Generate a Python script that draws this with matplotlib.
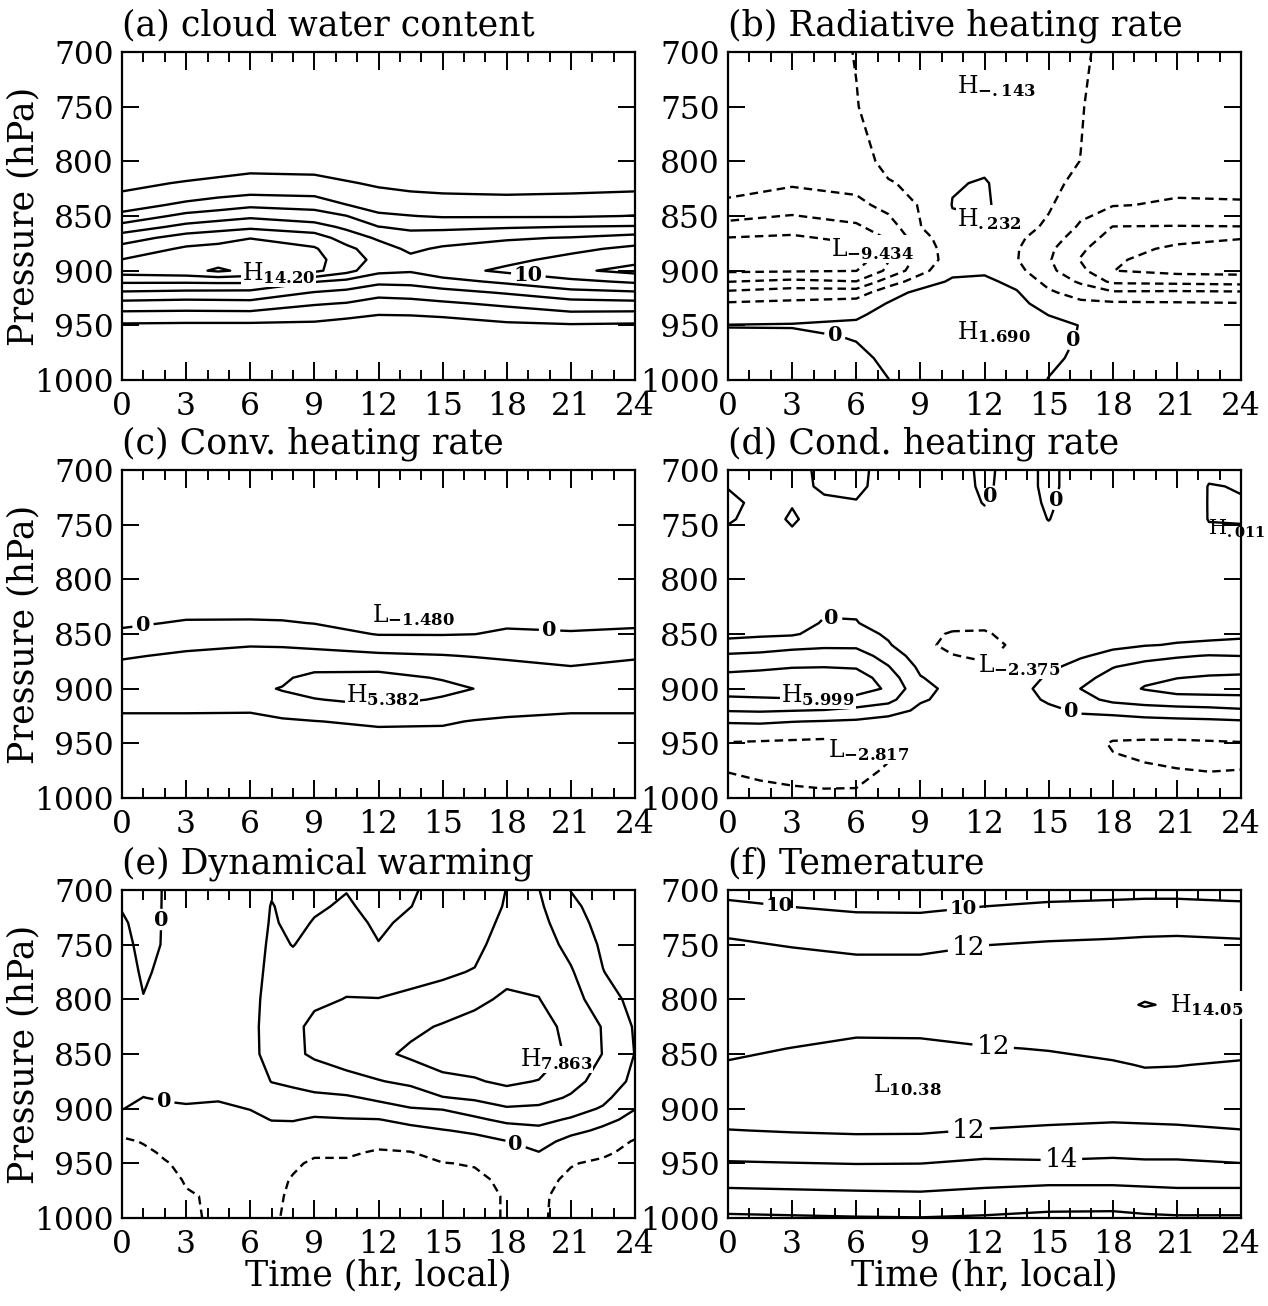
import numpy as np
import matplotlib
matplotlib.use('Agg')
import matplotlib.pyplot as plt
from matplotlib.ticker import MultipleLocator

plt.rcParams['font.family'] = ['DejaVu Serif']
plt.rcParams['mathtext.fontset'] = 'dejavuserif'

# ---------------- (a) cloud water content ----------------
TA = [0, 3, 4.5, 6, 9, 10.5, 12, 13.5, 15, 18, 21, 24]
PA = [700, 800, 810, 820, 830, 840, 850, 860, 870, 880, 890, 900, 910, 920, 930, 940, 950, 960, 1000]
A_cols = [
    [0, 0, 0.7, 1.4, 2.2, 3.2, 4.5, 6.8, 9.0, 10.75, 12.05, 13.0, 10.3, 7.75, 5.4, 3.45, 1.7, 0.8, 0],
    [0, 0.2, 1.2, 2.2, 3.2, 4.4, 6.6, 8.6, 10.9, 12.3, 13.0, 13.4, 10.3, 7.5, 5.2, 3.4, 1.6, 0.8, 0],
    [0, 0.5, 1.55, 2.55, 3.55, 5.0, 7.1, 9.1, 11.4, 12.5, 13.2, 14.3, 10.4, 7.45, 5.3, 3.4, 1.6, 0.8, 0],
    [0, 0.8, 1.9, 2.9, 3.9, 5.6, 7.6, 9.6, 11.95, 12.8, 13.3, 13.5, 10.4, 7.4, 5.4, 3.4, 1.6, 0.8, 0],
    [0, 0.7, 1.8, 2.7, 3.7, 5.3, 6.9, 8.8, 11.0, 12.2, 12.6, 12.5, 8.1, 5.9, 4.2, 2.8, 1.6, 0.7, 0],
    [0, 0.4, 1.3, 2.2, 3.0, 4.05, 6.05, 7.6, 9.1, 10.5, 11.0, 10.7, 7.4, 5.5, 3.9, 2.5, 1.2, 0.6, 0],
    [0, 0, 0.8, 1.7, 2.5, 3.3, 4.3, 6.05, 7.7, 8.9, 9.4, 8.5, 6.5, 4.6, 3.3, 2.05, 1.0, 0.5, 0],
    [0, 0, 0.6, 1.4, 2.2, 3.0, 4.05, 5.6, 6.8, 7.6, 8.5, 8.2, 6.6, 4.8, 3.4, 2.1, 1.0, 0.5, 0],
    [0, 0, 0.5, 1.3, 2.05, 2.9, 3.8, 5.6, 7.0, 8.3, 9.1, 9.2, 7.3, 5.3, 3.7, 2.3, 1.1, 0.5, 0],
    [0, 0, 0.5, 1.2, 1.95, 2.8, 3.8, 5.8, 7.8, 8.7, 9.5, 10.4, 8.4, 6.2, 4.4, 3.0, 1.6, 0.8, 0],
    [0, 0, 0.5, 1.2, 2.05, 2.9, 3.8, 6.05, 8.1, 9.5, 10.6, 11.6, 9.5, 7.4, 5.2, 3.6, 1.8, 0.9, 0],
    [0, 0, 0.7, 1.4, 2.2, 3.2, 4.05, 6.2, 8.8, 10.5, 11.5, 12.6, 10.3, 7.75, 5.4, 3.45, 1.7, 0.8, 0],
]
A_levels = [2, 4, 6, 8, 10, 12, 14]

# ---------------- (b) radiative heating rate ----------------
TB = [0, 3, 6, 7.5, 9, 10.5, 12, 13.5, 15, 16.5, 18, 21, 24]
PB = [700, 750, 800, 820, 840, 860, 870, 880, 890, 900, 910, 920, 930, 940, 950, 960, 980, 1000]
B_cols = [
    [-3.0, -3.2, -3.5, -3.6, -4.2, -6.7, -8.05, -8.8, -8.8, -8.3, -6.05, -3.6, -1.8, -0.8, 0.05, -0.2, -0.4, -0.5],
    [-2.8, -3.0, -3.3, -3.8, -5.0, -7.2, -8.3, -9.0, -9.1, -8.2, -5.5, -3.0, -1.6, -0.6, 0.1, -0.3, -0.6, -0.8],
    [-1.95, -2.05, -2.6, -3.3, -4.6, -6.3, -7.5, -8.5, -9.3, -8.05, -5.95, -3.0, -1.2, -0.3, 0.3, 0.1, -0.3, -0.6],
    [-1.3, -1.4, -1.6, -2.1, -3.3, -5.0, -5.8, -6.05, -6.1, -5.6, -3.0, -0.8, 0.1, 0.6, 0.8, 0.6, 0.25, -0.02],
    [-1.0, -1.2, -1.5, -1.7, -1.85, -2.05, -2.8, -3.2, -3.3, -2.6, -1.0, 0.5, 1.0, 1.3, 1.4, 1.3, 1.0, 0.7],
    [-0.6, -0.5, -0.4, -0.1, 0.05, -0.3, -0.6, -0.9, -1.0, -0.5, 0.3, 1.0, 1.4, 1.6, 1.7, 1.7, 1.4, 1.0],
    [-0.3, -0.2, -0.3, 0.1, 0.22, -0.2, -0.5, -0.8, -0.9, -0.3, 0.4, 1.1, 1.5, 1.65, 1.7, 1.69, 1.5, 1.1],
    [-0.6, -0.6, -0.6, -0.6, -0.8, -1.3, -1.6, -1.85, -1.9, -1.4, -0.5, 0.15, 0.6, 0.9, 1.1, 1.2, 1.1, 0.9],
    [-1.2, -1.3, -1.5, -1.6, -1.8, -2.3, -3.0, -3.6, -3.8, -3.5, -2.6, -1.7, -0.9, -0.05, 0.5, 0.55, 0.3, -0.05],
    [-1.7, -1.9, -2.02, -2.4, -3.2, -4.3, -5.0, -5.7, -6.1, -5.5, -4.3, -2.8, -1.6, -0.7, -0.05, -0.1, -0.3, -0.5],
    [-2.6, -2.8, -3.1, -3.5, -3.9, -6.05, -6.7, -7.2, -7.7, -7.98, -6.4, -3.7, -1.7, -0.8, -0.4, -0.4, -0.5, -0.6],
    [-2.8, -3.0, -3.3, -3.6, -4.2, -6.1, -7.4, -8.4, -9.0, -8.6, -6.6, -3.6, -1.8, -0.9, -0.6, -0.6, -0.6, -0.7],
    [-2.9, -3.1, -3.4, -3.7, -4.1, -6.05, -7.9, -8.8, -9.2, -8.7, -6.8, -3.7, -1.9, -1.0, -0.6, -0.6, -0.6, -0.7],
]
B_levels = [-8, -6, -4, -2, 0]

# ---------------- (c) convective heating rate ----------------
TC = [0, 3, 6, 7.5, 9, 12, 15, 16.5, 18, 21, 24]
PC = [700, 800, 830, 840, 850, 860, 870, 880, 890, 900, 910, 920, 930, 940, 960, 1000]
C_cols = [
    [-0.3, -0.6, -0.6, -0.25, 0.3, 1.0, 1.8, 2.4, 3.0, 3.5, 3.2, 2.1, 1.7, 1.5, 1.3, 1.0],
    [-0.3, -0.7, -0.35, 0.15, 0.8, 1.6, 2.3, 2.8, 3.3, 3.7, 3.3, 2.1, 1.7, 1.5, 1.3, 1.0],
    [-0.4, -0.8, -0.4, 0.2, 1.0, 1.9, 2.6, 3.1, 3.5, 3.8, 3.5, 2.05, 1.8, 1.5, 1.3, 1.0],
    [-0.5, -0.9, -0.45, 0.15, 1.0, 1.85, 2.6, 3.2, 3.8, 4.05, 3.8, 2.5, 1.8, 1.5, 1.3, 1.0],
    [-0.6, -1.0, -0.5, -0.05, 0.8, 1.7, 2.5, 3.6, 4.4, 4.8, 3.9, 2.9, 1.95, 1.6, 1.3, 1.0],
    [-0.5, -1.1, -1.45, -1.0, -0.1, 1.2, 2.3, 3.5, 4.6, 5.3, 4.6, 3.4, 2.3, 1.7, 1.4, 1.0],
    [-0.5, -1.0, -1.3, -0.9, -0.1, 1.0, 2.1, 3.0, 3.85, 4.5, 3.8, 3.0, 2.2, 1.7, 1.4, 1.0],
    [-0.4, -0.9, -1.0, -0.7, -0.02, 0.9, 1.9, 2.8, 3.5, 3.98, 3.5, 2.7, 1.9, 1.6, 1.3, 1.0],
    [-0.3, -0.7, -0.6, -0.3, 0.3, 0.9, 1.7, 2.5, 3.2, 3.6, 3.2, 2.3, 1.8, 1.5, 1.3, 1.0],
    [-0.3, -0.6, -0.6, -0.4, 0.15, 0.7, 1.3, 2.05, 2.8, 3.2, 2.9, 2.1, 1.7, 1.5, 1.3, 1.0],
    [-0.3, -0.6, -0.6, -0.25, 0.3, 1.0, 1.8, 2.4, 3.0, 3.5, 3.2, 2.1, 1.7, 1.5, 1.3, 1.0],
]
C_levels = [0, 2, 4]

# ---------------- (d) condensational heating rate ----------------
TD = [0, 1.5, 3, 4.5, 6, 7.5, 9, 10.5, 12, 13.5, 15, 16.5, 18, 19.5, 21, 22.5, 24]
PD = [700, 715, 730, 745, 760, 790, 820, 840, 850, 860, 870, 880, 890, 900, 910, 920, 930, 940, 950, 960, 975, 990, 1000]
D_cols = [
    [-0.1, -0.02, 0.1, 0.05, -0.1, -0.3, -0.4, -0.5, -0.5, 0.7, 2.3, 3.4, 4.6, 5.0, 3.6, 2.1, 0.2, -1.2, -2.1, -2.4, -2.05, -1.6, -1.4],
    [-0.1, -0.1, -0.1, -0.15, -0.15, -0.3, -0.4, -0.5, -0.3, 0.9, 2.5, 3.6, 4.8, 5.2, 3.7, 2.2, 0.3, -1.2, -2.2, -2.5, -2.3, -1.8, -1.5],
    [-0.15, -0.1, -0.02, 0.04, -0.05, -0.3, -0.4, -0.5, -0.2, 1.3, 2.9, 3.9, 5.0, 5.5, 3.8, 2.05, 0.05, -1.3, -2.3, -2.6, -2.5, -1.95, -1.6],
    [0.1, 0.05, -0.05, -0.15, -0.2, -0.3, -0.3, 0.1, 0.6, 1.6, 3.0, 3.95, 5.3, 5.95, 3.9, 1.9, -0.1, -1.4, -2.4, -2.75, -2.6, -2.05, -1.7],
    [0.1, 0.08, -0.02, -0.1, -0.2, -0.3, -0.25, 0.05, 0.8, 1.6, 2.9, 3.8, 5.0, 5.4, 3.0, 1.6, -0.3, -1.5, -2.3, -2.7, -2.5, -2.02, -1.8],
    [-0.15, -0.15, -0.15, -0.15, -0.2, -0.3, -0.4, -0.5, -0.3, 0.2, 1.2, 2.1, 3.0, 3.6, 2.6, 0.9, -0.8, -1.6, -2.05, -2.2, -1.8, -1.5, -1.3],
    [-0.2, -0.2, -0.2, -0.2, -0.25, -0.4, -0.6, -1.0, -1.7, -1.7, -1.0, -0.4, 0.1, 0.6, 0.2, -0.4, -1.1, -1.5, -1.75, -1.8, -1.6, -1.3, -1.1],
    [-0.2, -0.2, -0.2, -0.2, -0.3, -0.6, -1.1, -1.7, -2.1, -2.3, -1.95, -1.4, -0.8, -0.5, -0.5, -0.7, -1.0, -1.2, -1.3, -1.3, -1.2, -1.1, -1.0],
    [0.1, 0.08, 0.02, -0.1, -0.3, -0.6, -1.2, -1.8, -2.1, -2.37, -2.2, -1.8, -1.2, -0.7, -0.6, -0.7, -1.0, -1.2, -1.3, -1.3, -1.2, -1.1, -1.0],
    [-0.2, -0.2, -0.2, -0.2, -0.3, -0.5, -0.9, -1.4, -1.7, -1.8, -1.6, -1.2, -0.8, -0.5, -0.6, -0.8, -1.0, -1.2, -1.3, -1.3, -1.3, -1.2, -1.1],
    [0.1, 0.1, 0.06, 0.01, -0.1, -0.4, -0.7, -0.9, -1.0, -0.9, -0.6, -0.3, 0.2, 0.5, 0.2, -0.3, -0.7, -1.0, -1.2, -1.3, -1.3, -1.2, -1.1],
    [-0.2, -0.2, -0.2, -0.2, -0.25, -0.4, -0.6, -0.8, -0.7, -0.5, -0.15, 0.5, 1.3, 2.02, 1.3, 0.2, -0.5, -1.0, -1.3, -1.4, -1.4, -1.3, -1.2],
    [-0.2, -0.2, -0.2, -0.2, -0.25, -0.4, -0.6, -0.7, -0.6, -0.3, 0.4, 1.9, 2.8, 3.3, 2.5, 0.6, -0.8, -1.5, -2.15, -1.95, -1.8, -1.6, -1.5],
    [-0.2, -0.2, -0.2, -0.2, -0.25, -0.4, -0.6, -0.7, -0.5, -0.1, 1.2, 2.8, 3.7, 4.1, 3.0, 1.0, -0.6, -1.6, -2.2, -2.2, -1.8, -1.7, -1.6],
    [-0.2, -0.2, -0.2, -0.2, -0.25, -0.4, -0.6, -0.7, -0.4, 0.1, 1.8, 3.0, 3.95, 4.8, 3.2, 1.3, -0.5, -1.6, -2.2, -2.3, -1.95, -1.7, -1.6],
    [-0.05, 0.01, 0.011, 0.01, -0.05, -0.3, -0.5, -0.7, -0.45, 0.3, 2.1, 3.2, 4.2, 5.0, 3.2, 1.5, -0.4, -1.5, -2.15, -2.35, -2.02, -1.7, -1.6],
    [-0.05, -0.01, 0.011, 0.008, -0.02, -0.3, -0.5, -0.6, -0.3, 0.4, 1.98, 3.3, 4.3, 4.6, 3.6, 1.7, -0.2, -1.3, -2.1, -2.3, -1.98, -1.7, -1.6],
]
D_levels = [-2, 0, 2, 4]

# ---------------- (e) dynamical warming ----------------
TE = [0, 1, 2, 3, 4.5, 6, 7, 8, 9, 10.5, 12, 13.5, 15, 16.5, 18, 19.5, 21, 22.5, 24]
PE = [700, 715, 730, 750, 775, 800, 825, 850, 875, 890, 900, 910, 920, 930, 940, 950, 965, 980, 1000]
E_cols = [
    [-0.3, -0.1, 0.2, 0.45, 0.7, 0.8, 0.9, 0.9, 0.7, 0.35, 0.05, -0.6, -1.5, -2.3, -2.6, -2.8, -2.9, -2.9, -2.8],
    [-0.6, -0.55, -0.5, -0.4, -0.2, 0.05, 0.4, 0.6, 0.4, -0.02, -0.4, -0.9, -1.5, -1.9, -2.3, -2.5, -2.7, -2.8, -2.8],
    [0.1, 0.1, 0.1, 0.1, 0.3, 0.6, 0.9, 0.9, 0.6, 0.15, -0.3, -0.8, -1.2, -1.5, -1.8, -2.1, -2.4, -2.6, -2.6],
    [0.3, 0.35, 0.4, 0.5, 0.6, 0.8, 0.9, 0.9, 0.6, 0.2, -0.15, -0.6, -1.0, -1.3, -1.5, -1.7, -1.9, -2.1, -2.1],
    [0.4, 0.45, 0.5, 0.6, 0.7, 0.9, 1.0, 1.0, 0.7, 0.15, -0.3, -0.6, -0.9, -1.2, -1.4, -1.6, -1.75, -1.85, -1.9],
    [0.6, 0.7, 0.8, 0.9, 1.1, 1.3, 1.4, 1.4, 1.1, 0.5, 0.05, -0.4, -0.8, -1.1, -1.3, -1.5, -1.6, -1.7, -1.7],
    [1.8, 2.1, 2.2, 2.4, 2.6, 2.8, 2.9, 2.8, 2.05, 1.2, 0.6, 0.05, -0.5, -0.9, -1.2, -1.4, -1.6, -1.8, -1.9],
    [1.2, 1.4, 1.6, 1.95, 2.6, 3.2, 3.6, 3.6, 2.3, 1.5, 0.7, 0.1, -0.6, -1.1, -1.5, -1.8, -2.1, -2.15, -2.15],
    [1.5, 1.8, 2.1, 2.5, 3.0, 3.7, 4.4, 4.3, 2.8, 1.6, 0.6, -0.2, -0.9, -1.4, -1.8, -2.2, -2.5, -2.6, -2.6],
    [1.95, 2.2, 2.5, 2.9, 3.5, 4.05, 4.6, 4.6, 3.6, 1.7, 0.8, -0.1, -0.9, -1.4, -1.8, -2.2, -2.5, -2.6, -2.6],
    [1.3, 1.5, 1.75, 2.05, 3.0, 4.05, 5.0, 5.5, 3.9, 2.4, 1.2, -0.05, -0.8, -1.6, -2.15, -2.4, -2.6, -2.7, -2.7],
    [1.9, 1.98, 2.3, 2.8, 3.5, 4.3, 5.5, 6.4, 4.4, 3.0, 1.9, 0.5, -0.5, -1.3, -2.05, -2.4, -2.6, -2.6, -2.6],
    [2.3, 2.5, 2.8, 3.2, 3.75, 4.6, 6.2, 6.8, 5.6, 3.9, 2.1, 1.0, -0.1, -0.8, -1.4, -2.05, -2.5, -2.6, -2.6],
    [2.6, 2.8, 3.1, 3.5, 4.1, 5.6, 6.6, 7.2, 5.8, 4.3, 3.0, 1.6, 0.3, -0.6, -1.3, -1.9, -2.3, -2.4, -2.4],
    [4.05, 4.2, 4.5, 4.9, 5.5, 6.3, 7.2, 7.8, 6.4, 5.0, 3.8, 2.5, 1.0, -0.05, -0.8, -1.3, -1.7, -1.9, -1.9],
    [4.05, 4.3, 4.6, 5.0, 5.5, 6.05, 6.9, 7.5, 5.9, 4.6, 3.7, 2.5, 1.6, 0.8, -0.05, -0.8, -1.5, -1.75, -1.8],
    [1.95, 2.4, 2.8, 3.4, 4.2, 4.8, 5.3, 5.5, 4.6, 3.8, 2.8, 1.8, 0.6, -0.7, -1.3, -1.9, -2.3, -2.5, -2.5],
    [1.0, 1.2, 1.4, 1.7, 2.05, 2.9, 3.9, 3.95, 3.3, 2.5, 1.8, 0.6, -0.4, -1.1, -1.7, -2.3, -2.6, -2.7, -2.7],
    [0.2, 0.3, 0.5, 0.7, 1.0, 1.4, 1.8, 1.95, 1.5, 0.6, 0.05, -0.6, -1.4, -2.15, -2.5, -2.7, -2.8, -2.8, -2.8],
]
E_levels = [-2, 0, 2, 4, 6]

# ---------------- (f) temperature ----------------
TF = [0, 3, 6, 9, 12, 15, 18, 19.5, 21, 24]
PF = [700, 710, 720, 730, 745, 760, 780, 805, 830, 845, 860, 875, 890, 905, 920, 935, 950, 965, 980, 990, 1000]
F_cols = [
    [9.5, 10.05, 10.6, 11.2, 12.05, 12.7, 13.1, 13.3, 13.0, 12.5, 11.8, 11.2, 11.0, 11.3, 12.05, 13.0, 14.15, 15.4, 16.6, 17.5, 18.3],
    [9.2, 9.7, 10.25, 10.8, 11.6, 12.4, 12.9, 13.2, 12.8, 11.95, 11.2, 10.8, 10.7, 11.0, 11.9, 12.8, 14.05, 15.3, 16.5, 17.4, 18.2],
    [8.9, 9.4, 9.98, 10.5, 11.2, 12.05, 12.6, 12.9, 12.3, 11.4, 10.8, 10.45, 10.4, 10.9, 11.8, 12.7, 13.95, 15.2, 16.4, 17.3, 18.1],
    [8.9, 9.4, 9.95, 10.5, 11.2, 12.05, 12.6, 12.9, 12.3, 11.5, 10.9, 10.5, 10.5, 10.9, 11.8, 12.8, 13.98, 15.2, 16.3, 17.2, 18.05],
    [9.2, 9.7, 10.3, 10.9, 11.7, 12.5, 13.0, 13.3, 12.8, 11.85, 11.2, 10.8, 10.8, 11.2, 12.1, 13.2, 14.3, 15.4, 16.6, 17.4, 18.2],
    [9.5, 9.95, 10.5, 11.1, 11.9, 12.7, 13.2, 13.5, 13.0, 12.1, 11.4, 11.0, 10.9, 11.4, 12.3, 13.2, 14.2, 15.6, 16.8, 17.7, 18.4],
    [9.5, 10.05, 10.7, 11.3, 12.02, 12.9, 13.5, 13.8, 13.3, 12.5, 11.8, 11.3, 11.1, 11.6, 12.4, 13.3, 14.35, 15.6, 16.8, 17.7, 18.5],
    [9.6, 10.1, 10.8, 11.4, 12.1, 13.0, 13.6, 14.05, 13.4, 12.8, 12.1, 11.5, 11.2, 11.6, 12.3, 13.2, 14.25, 15.5, 16.7, 17.5, 18.3],
    [9.6, 10.1, 10.8, 11.4, 12.15, 13.0, 13.6, 13.9, 13.3, 12.7, 12.05, 11.5, 11.2, 11.55, 12.25, 13.2, 14.25, 15.4, 16.6, 17.4, 18.2],
    [9.5, 9.98, 10.6, 11.2, 12.02, 12.7, 13.1, 13.3, 13.0, 12.5, 11.8, 11.2, 11.0, 11.3, 12.05, 13.0, 14.02, 15.4, 16.6, 17.4, 18.2],
]
F_levels = [10, 12, 14, 16, 18]

TITLES = ['(a) cloud water content', '(b) Radiative heating rate', '(c) Conv. heating rate',
          '(d) Cond. heating rate', '(e) Dynamical warming', '(f) Temerature']
XTICKS = [0, 3, 6, 9, 12, 15, 18, 21, 24]
YTICKS = [700, 750, 800, 850, 900, 950, 1000]

FS = 22.5
FS_T = 25
DASH = (0, (3.6, 2.2))
LW = 1.7

fig = plt.figure(figsize=(12.68, 13.06), dpi=100)
W, H = 1268.0, 1306.0
lefts = [122, 728]
tops = [52, 470, 890]
aw, ah = 513, 328

axes = []
for r in range(3):
    for c in range(2):
        ax = fig.add_axes([lefts[c] / W, 1 - (tops[r] + ah) / H, aw / W, ah / H])
        axes.append(ax)


def styles(levels):
    return [DASH if lv < 0 else 'solid' for lv in levels]


def frame(ax, title, ylab=False, xlab=False):
    ax.set_xlim(0, 24)
    ax.set_ylim(1000, 700)
    ax.set_xticks(XTICKS)
    ax.xaxis.set_minor_locator(MultipleLocator(1))
    ax.set_yticks(YTICKS)
    ax.tick_params(axis='x', which='major', direction='in', top=True, bottom=True,
                   length=13, width=1.4, labelsize=FS, pad=8)
    ax.tick_params(axis='x', which='minor', direction='in', top=True, bottom=True,
                   length=7, width=1.4)
    ax.tick_params(axis='y', which='major', direction='in', left=True, right=True,
                   length=12, width=1.4, labelsize=FS, pad=6)
    for s in ax.spines.values():
        s.set_linewidth(1.6)
    ax.text(0.0, 1.05, title, transform=ax.transAxes, fontsize=FS_T, ha='left', va='baseline')
    if ylab:
        ax.set_ylabel('Pressure (hPa)', fontsize=FS_T)
        ax.yaxis.set_label_coords(-0.158, 0.5)
    if xlab:
        ax.set_xlabel('Time (hr, local)', fontsize=FS_T)
        ax.xaxis.set_label_coords(0.5, -0.122)


def panel(ax, t, p, cols, levels, title, labels=(), ylab=False, xlab=False):
    """labels: list of (levels_to_label, manual_positions, fontsize, weight)"""
    Z = np.array(cols, dtype=float).T
    labelled = [lv for grp in labels for lv in grp[0]]
    rest = [lv for lv in levels if lv not in labelled]
    frame(ax, title, ylab, xlab)
    if rest:
        ax.contour(t, p, Z, levels=rest, colors='black', linewidths=LW, linestyles=styles(rest))
    for lvls, manual, fs, wt in labels:
        cs = ax.contour(t, p, Z, levels=lvls, colors='black', linewidths=LW, linestyles=styles(lvls))
        ax.set_xlim(0, 24)
        ax.set_ylim(1000, 700)
        texts = cs.clabel(manual=manual, fmt='%g', fontsize=fs, inline=True, inline_spacing=4)
        for tx in texts:
            tx.set_rotation(0)
            tx.set_fontweight(wt)


def hl(ax, x, y, letter, val, fs=17, box=True):
    kw = dict(fontsize=fs, ha='left', va='center', zorder=6, clip_on=False)
    if box:
        kw['bbox'] = dict(facecolor='white', edgecolor='none', pad=0.6)
    ax.text(x, y, letter + r'$_{\mathbf{' + val + '}}$', **kw)


# (a)
panel(axes[0], TA, PA, A_cols, A_levels, TITLES[0], [([10], [(19.0, 906)], 15, 'bold')], ylab=True)
hl(axes[0], 5.6, 902, 'H', '14.20')

# (b)
panel(axes[1], TB, PB, B_cols, B_levels, TITLES[1], [([0], [(5.0, 959), (16.0, 962)], 15, 'bold')])
hl(axes[1], 10.7, 731, 'H', '-.143')
hl(axes[1], 4.8, 880, 'L', '-9.434')
hl(axes[1], 10.7, 853, 'H', '.232')
hl(axes[1], 10.7, 956, 'H', '1.690')

# (c)
panel(axes[2], TC, PC, C_cols, C_levels, TITLES[2], [([0], [(1.0, 845), (20.0, 848)], 15, 'bold')], ylab=True)
hl(axes[2], 11.7, 833, 'L', '-1.480')
hl(axes[2], 10.5, 906, 'H', '5.382')

# (d)
panel(axes[3], TD, PD, D_cols, D_levels, TITLES[3],
      [([0], [(4.85, 834), (16.0, 925), (12.6, 726), (15.6, 728)], 15, 'bold')])
hl(axes[3], 2.5, 906, 'H', '5.999')
hl(axes[3], 11.7, 878, 'L', '-2.375')
hl(axes[3], 4.7, 956, 'L', '-2.817')
hl(axes[3], 22.45, 754, 'H', '.011', fs=15, box=False)

# (e)
panel(axes[4], TE, PE, E_cols, E_levels, TITLES[4],
      [([0], [(1.95, 894), (18.4, 933), (1.8, 727)], 15, 'bold')], ylab=True, xlab=True)
hl(axes[4], 18.6, 855, 'H', '7.863')

# (f)
panel(axes[5], TF, PF, F_cols, F_levels, TITLES[5],
      [([10], [(2.4, 717), (11.0, 717)], 14, 'bold'),
       ([12, 14], [(11.3, 760), (12.4, 844), (11.3, 925), (15.6, 949)], 19, 'normal')], xlab=True)
hl(axes[5], 6.8, 878, 'L', '10.38')
hl(axes[5], 20.7, 805, 'H', '14.05')

fig.savefig('out.png', dpi=100)
